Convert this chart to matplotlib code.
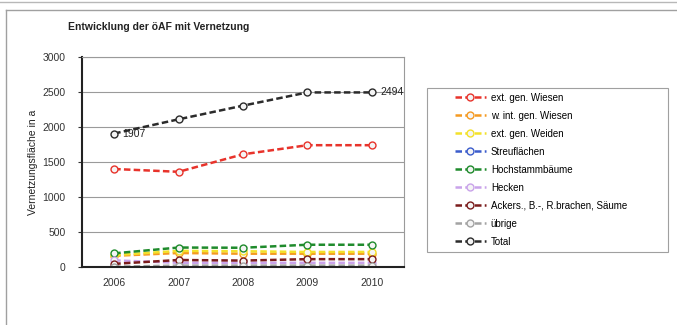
import matplotlib.pyplot as plt
from matplotlib.patches import Rectangle
from matplotlib.lines import Line2D

plt.rcParams['font.family'] = ['Liberation Sans', 'DejaVu Sans']

# Data
years = ['2006', '2007', '2008', '2009', '2010']
ext_wiesen = [1400, 1360, 1610, 1740, 1740]
wint_wiesen = [160, 200, 190, 190, 190]
ext_weiden = [170, 230, 225, 215, 215]
streuflaechen = [5, 5, 5, 5, 5]
hochstamm = [195, 278, 275, 318, 318]
hecken = [95, 60, 60, 60, 60]
ackers = [45, 100, 92, 112, 112]
uebrige = [5, 20, 20, 20, 20]
total = [1907, 2110, 2305, 2494, 2494]

series = [
    ('ext. gen. Wiesen', ext_wiesen, '#e8332b'),
    ('w. int. gen. Wiesen', wint_wiesen, '#f59a22'),
    ('ext. gen. Weiden', ext_weiden, '#f3e12a'),
    ('Streuflächen', streuflaechen, '#3b5ccc'),
    ('Hochstammbäume', hochstamm, '#1f8b2c'),
    ('Hecken', hecken, '#c9a3ea'),
    ('Ackers., B.-, R.brachen, Säume', ackers, '#7b1c1c'),
    ('übrige', uebrige, '#a3a3a3'),
    ('Total', total, '#2b2b2b'),
]

W, H = 677, 325
fig = plt.figure(figsize=(W / 100, H / 100), dpi=100)

def fx(px):
    return px / W

def fy(py):
    return 1 - py / H

# outer chart frame
fig.add_artist(Line2D([0, 1], [fy(1.5), fy(1.5)], color='#b8b8b8', lw=1))
fig.add_artist(Line2D([fx(6), 1], [fy(10), fy(10)], color='#a0a0a0', lw=1))
fig.add_artist(Line2D([fx(6), fx(6)], [fy(10), 0], color='#a0a0a0', lw=1))

ax = fig.add_axes([fx(82), fy(267), fx(404) - fx(82), (267 - 57) / H])

dash = (0, (2.6, 1.3))
x = list(range(len(years)))
for name, vals, col in series:
    ax.plot(x, vals, color=col, lw=1.8, linestyle=dash, marker='o',
            markersize=5, markerfacecolor='#f4f4f4', markeredgecolor=col,
            markeredgewidth=1.0, label=name)

ax.text(0 + 0.13, total[0], str(total[0]), fontsize=7.5, va='center', ha='left', color='#222222')
ax.text(4 + 0.13, total[4], str(total[4]), fontsize=7.5, va='center', ha='left', color='#222222')

ax.set_xlim(-0.5, 4.5)
ax.set_ylim(0, 3000)
ax.set_yticks(range(0, 3001, 500))
ax.set_xticks(x)
ax.set_xticklabels(years)
ax.tick_params(axis='both', labelsize=7.5, colors='#333333', length=3, width=0.8)
ax.tick_params(axis='y', pad=9)
ax.tick_params(axis='x', length=0, pad=8)
ax.grid(axis='y', color='#9a9a9a', lw=0.8)
ax.set_axisbelow(True)
for s in ['top', 'right']:
    ax.spines[s].set_color('#9a9a9a')
    ax.spines[s].set_linewidth(0.8)
for s in ['left', 'bottom']:
    ax.spines[s].set_color('#222222')
    ax.spines[s].set_linewidth(1.5)

ax.set_ylabel('Vernetzungsfläche in a', fontsize=7.5, color='#222222', labelpad=3)

fig.text(fx(68), fy(27), 'Entwicklung der öAF mit Vernetzung', fontsize=7.5,
         fontweight='bold', va='center', ha='left', color='#222222')

# legend box
fig.add_artist(Rectangle((fx(427), fy(252)), fx(668) - fx(427), (252 - 88) / H,
                         fill=False, edgecolor='#a0a0a0', lw=0.8))
handles, labels = ax.get_legend_handles_labels()
fig.legend(handles, labels, loc='upper left', bbox_to_anchor=(fx(448), fy(86)),
           frameon=False, fontsize=7, handlelength=3.2, handletextpad=0.5,
           labelspacing=0.82, borderpad=0.2)

plt.savefig('out.png', dpi=100)
